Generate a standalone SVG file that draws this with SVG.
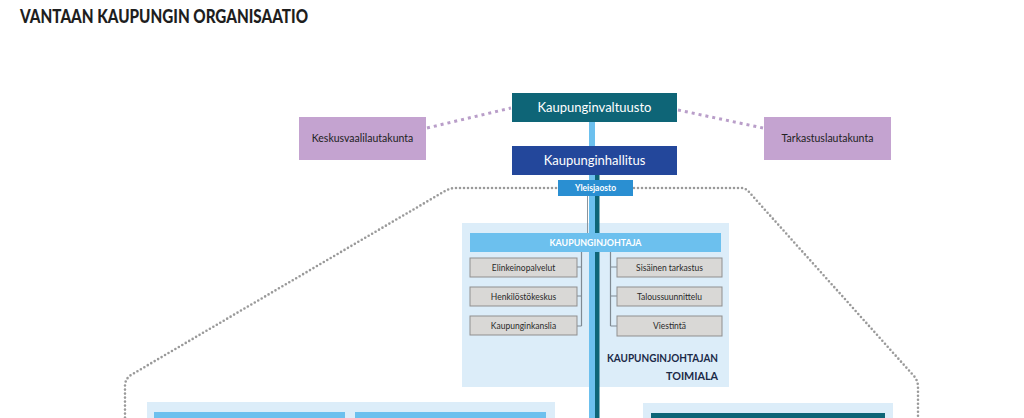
<svg xmlns="http://www.w3.org/2000/svg" width="1024" height="418" viewBox="0 0 1024 418">
<style>
  text { font-family: Lato, "Open Sans", "Liberation Sans", sans-serif; }
  .title { font-size: 18px; font-weight: 900; fill: #1e1e1e; }
  .wt { fill: #ffffff; text-anchor: middle; }
  .dk { fill: #222222; text-anchor: middle; }
  .lilac { fill: #c4a3d0; }
  .grey { fill: #d9d8d6; stroke: #8f8f8f; stroke-width: 1; }
  .gt { font-size: 8.5px; fill: #2a2a2a; text-anchor: middle; }
  .dotgrey { fill: none; stroke: #9a9a9a; stroke-width: 2.6; stroke-linecap: round; stroke-dasharray: 0 4; }
  .dotlilac { fill: none; stroke: #b99ec9; stroke-width: 3; stroke-dasharray: 3 4; }
  .br { fill: none; stroke: #7f8a93; stroke-width: 1.2; }
  .panel { fill: #dcedf9; }
</style>
<rect width="1024" height="418" fill="#ffffff"/>
<text class="title" x="20" y="23" textLength="288" lengthAdjust="spacingAndGlyphs">VANTAAN KAUPUNGIN ORGANISAATIO</text>

<!-- panels (background) -->
<g id="kaupunginjohtajan-toimiala">
  <rect class="panel" x="462" y="223" width="267" height="164"/>
  <text x="718" y="362" font-size="12" font-weight="700" fill="#1b2a48" text-anchor="end" textLength="111" lengthAdjust="spacingAndGlyphs">KAUPUNGINJOHTAJAN</text>
  <text x="718" y="380" font-size="12" font-weight="700" fill="#1b2a48" text-anchor="end" textLength="52" lengthAdjust="spacingAndGlyphs">TOIMIALA</text>
</g>
<g id="toimiala-left">
  <rect class="panel" x="147" y="402" width="408" height="20"/>
  <rect x="154" y="412" width="191" height="10" fill="#6cc0ee"/>
  <rect x="355" y="412" width="191" height="10" fill="#6cc0ee"/>
</g>
<g id="toimiala-right">
  <rect class="panel" x="643" y="403" width="250" height="20"/>
  <rect x="651" y="413" width="234" height="10" fill="#0e6577"/>
</g>

<!-- connectors -->
<g id="connectors">
  <path class="dotlilac" d="M427,128 L511,108"/>
  <path class="dotlilac" d="M678,110 L763,128"/>
  <path class="dotgrey" d="M556,188 H456 Q450,188 445,191 L131,375 Q125,379 125,386 V418"/>
  <path class="dotgrey" d="M634,188 H741 Q746,188 749,192 L913,375 Q918,380 918,387 V418"/>
  <rect x="589" y="122" width="6" height="300" fill="#6cc0ee"/>
  <rect x="595" y="175" width="4.5" height="247" fill="#0e6577"/>
  <line x1="587.5" y1="196" x2="587.5" y2="233" stroke="#8a959e" stroke-width="1"/>
  <path class="br" d="M577,267 H581.5 M577,296 H581.5 M577,326 H581.5 M581.5,252 V326"/>
  <path class="br" d="M617,267 H610.5 M617,296 H610.5 M617,326 H610.5 M610.5,252 V326"/>
</g>

<g id="kaupunginvaltuusto">
  <rect x="512" y="93" width="165" height="29" fill="#0e6577"/>
  <text class="wt" x="594.5" y="112" font-size="13">Kaupunginvaltuusto</text>
</g>
<g id="kaupunginhallitus">
  <rect x="512" y="146" width="165" height="29" fill="#23479b"/>
  <text class="wt" x="594.5" y="165" font-size="13">Kaupunginhallitus</text>
</g>
<g id="yleisjaosto">
  <rect x="558" y="180" width="75" height="16" fill="#2a8fd2"/>
  <text class="wt" x="595.5" y="191" font-size="8.5" font-weight="700">Yleisjaosto</text>
</g>
<g id="keskusvaalilautakunta">
  <rect class="lilac" x="299" y="117" width="127" height="43"/>
  <text class="dk" x="362.5" y="142" font-size="10.5">Keskusvaalilautakunta</text>
</g>
<g id="tarkastuslautakunta">
  <rect class="lilac" x="764" y="117" width="127" height="43"/>
  <text class="dk" x="827.5" y="142" font-size="10.5">Tarkastuslautakunta</text>
</g>
<g id="kaupunginjohtaja">
  <rect x="470" y="233" width="251" height="19" fill="#6cc0ee"/>
  <text class="wt" x="595.5" y="246" font-size="10" font-weight="700" textLength="92" lengthAdjust="spacingAndGlyphs">KAUPUNGINJOHTAJA</text>
</g>
<g id="elinkeinopalvelut">
  <rect class="grey" x="470" y="258" width="107" height="19"/>
  <text class="gt" x="523.5" y="270.5">Elinkeinopalvelut</text>
</g>
<g id="henkilostokeskus">
  <rect class="grey" x="470" y="287" width="107" height="19"/>
  <text class="gt" x="523.5" y="299.5">Henkilöstökeskus</text>
</g>
<g id="kaupunginkanslia">
  <rect class="grey" x="470" y="316" width="107" height="19"/>
  <text class="gt" x="523.5" y="328.5">Kaupunginkanslia</text>
</g>
<g id="sisainen-tarkastus">
  <rect class="grey" x="617" y="258" width="105" height="19"/>
  <text class="gt" x="669.5" y="270.5">Sisäinen tarkastus</text>
</g>
<g id="taloussuunnittelu">
  <rect class="grey" x="617" y="287" width="105" height="19"/>
  <text class="gt" x="669.5" y="299.5">Taloussuunnittelu</text>
</g>
<g id="viestinta">
  <rect class="grey" x="617" y="316" width="105" height="20"/>
  <text class="gt" x="669.5" y="329">Viestintä</text>
</g>
</svg>
